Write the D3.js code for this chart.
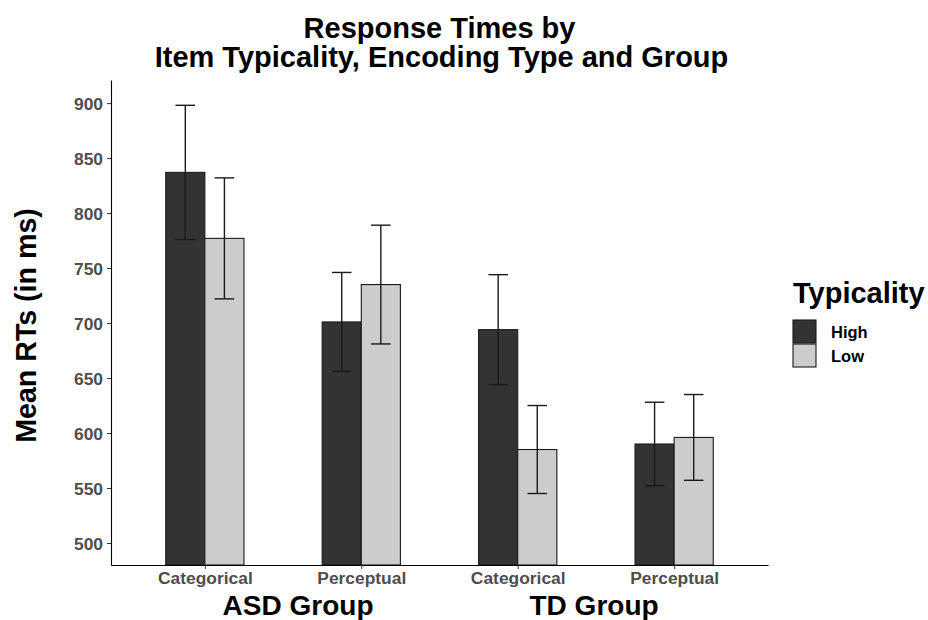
<!DOCTYPE html>
<html>
<head>
<meta charset="utf-8">
<script src="https://cdn.jsdelivr.net/npm/d3@7"></script>
<style>
  body { margin: 0; background: #fff; }
  svg { font-family: "Liberation Sans", Arial, sans-serif; font-weight: bold; }
</style>
</head>
<body>
<svg width="928" height="620"></svg>
<script>
// data
var groups = ["ASD Group", "TD Group"],
    encodings = ["Categorical", "Perceptual"],
    typicality = ["High", "Low"],
    highMeans = [837, 701, 694, 590],
    lowMeans = [777, 735, 585, 596],
    highErr = [61, 45, 50, 38],
    lowErr = [55, 54, 40, 39],
    yTicks = [500, 550, 600, 650, 700, 750, 800, 850, 900];

var svg = d3.select("svg"),
    margin = {left: 111, right: 160, top: 80, bottom: 55},
    width = +svg.attr("width"),
    height = +svg.attr("height"),
    x0 = margin.left, x1 = width - margin.right,
    y0 = height - margin.bottom, y1 = margin.top;

// one x slot per group x encoding
var conds = [];
groups.forEach(function(g) {
    encodings.forEach(function(e) { conds.push({group: g, enc: e, key: g + "|" + e}); });
});
var rows = [];
conds.forEach(function(c, i) {
    rows.push({key: c.key, typ: "High", mean: highMeans[i], err: highErr[i]});
    rows.push({key: c.key, typ: "Low", mean: lowMeans[i], err: lowErr[i]});
});

var x = d3.scalePoint()
    .domain(conds.map(function(c) { return c.key; }))
    .range([x0, x1])
    .padding(0.6);

var xSub = d3.scaleBand()
    .domain(typicality)
    .range([-x.step() * 0.25, x.step() * 0.25]);

var y = d3.scaleLinear()
    .domain([480, 921])
    .range([y0, y1]);

var color = d3.scaleOrdinal()
    .domain(typicality)
    .range(["#333333", "#cccccc"]);

// bars
svg.append("g")
    .selectAll("rect")
    .data(rows)
    .enter().append("rect")
    .attr("x", function(d) { return x(d.key) + xSub(d.typ); })
    .attr("width", xSub.bandwidth())
    .attr("y", function(d) { return y(d.mean); })
    .attr("height", function(d) { return y0 - y(d.mean); })
    .attr("fill", function(d) { return color(d.typ); })
    .attr("stroke", "#1a1a1a")
    .attr("stroke-width", 1.1);

// error bars
var capHalf = xSub.bandwidth() * 0.25;
var eb = svg.append("g")
    .attr("stroke", "#1a1a1a")
    .attr("stroke-width", 1.4)
    .selectAll("g")
    .data(rows)
    .enter().append("g")
    .attr("transform", function(d) {
        return "translate(" + (x(d.key) + xSub(d.typ) + xSub.bandwidth() / 2) + ",0)";
    });
eb.append("line")
    .attr("y1", function(d) { return y(d.mean + d.err); })
    .attr("y2", function(d) { return y(d.mean - d.err); });
eb.append("line")
    .attr("x1", -capHalf).attr("x2", capHalf)
    .attr("y1", function(d) { return y(d.mean + d.err); })
    .attr("y2", function(d) { return y(d.mean + d.err); });
eb.append("line")
    .attr("x1", -capHalf).attr("x2", capHalf)
    .attr("y1", function(d) { return y(d.mean - d.err); })
    .attr("y2", function(d) { return y(d.mean - d.err); });

// axes
var yAxis = svg.append("g")
    .attr("transform", "translate(" + x0 + ",0)")
    .call(d3.axisLeft(y).tickValues(yTicks).tickSizeInner(4).tickSizeOuter(0).tickPadding(4));
var xAxis = svg.append("g")
    .attr("transform", "translate(0," + y0 + ")")
    .call(d3.axisBottom(x).tickSizeInner(4).tickSizeOuter(0).tickPadding(3)
        .tickFormat(function(k) { return k.split("|")[1]; }));

[yAxis, xAxis].forEach(function(a) {
    a.select(".domain").attr("stroke", "#000").attr("stroke-width", 1.1);
    a.selectAll(".tick line").attr("stroke", "#333");
    a.selectAll(".tick text")
        .attr("fill", "#4d4d4d")
        .style("font-size", "17.4px")
        .style("font-family", "Liberation Sans, Arial, sans-serif")
        .style("font-weight", "bold");
});
yAxis.selectAll(".tick text").attr("dy", "0.36em");

// x title, one line with a wide gap, centred on the panel
var mid = (x0 + x1) / 2;
svg.append("text")
    .attr("x", mid - 66).attr("y", 615)
    .attr("text-anchor", "end")
    .style("font-size", "28px")
    .text(groups[0]);
svg.append("text")
    .attr("x", mid + 90).attr("y", 615)
    .attr("text-anchor", "start")
    .style("font-size", "28px")
    .text(groups[1]);

// y title
svg.append("text")
    .attr("transform", "translate(36," + ((y0 + y1) / 2 + 3) + ")rotate(-90)")
    .attr("text-anchor", "middle")
    .style("font-size", "28.6px")
    .text("Mean RTs (in ms)");

// title
svg.append("text")
    .attr("x", mid).attr("y", 38)
    .attr("text-anchor", "middle")
    .style("font-size", "29px")
    .text("Response Times by");
svg.append("text")
    .attr("x", mid + 2).attr("y", 67)
    .attr("text-anchor", "middle")
    .style("font-size", "29px")
    .text("Item Typicality, Encoding Type and Group");

// legend
var legend = svg.append("g").attr("transform", "translate(793,303)");
legend.append("text")
    .style("font-size", "29px")
    .text("Typicality");
var item = legend.selectAll(".key")
    .data(typicality)
    .enter().append("g")
    .attr("class", "key")
    .attr("transform", function(d, i) { return "translate(0," + (17 + i * 24) + ")"; });
item.append("rect")
    .attr("width", 23).attr("height", 23)
    .attr("fill", function(d) { return color(d); })
    .attr("stroke", "#1a1a1a")
    .attr("stroke-width", 1.1);
item.append("text")
    .attr("x", 38).attr("y", 18)
    .style("font-size", "16.5px")
    .text(function(d) { return d; });
</script>
</body>
</html>
